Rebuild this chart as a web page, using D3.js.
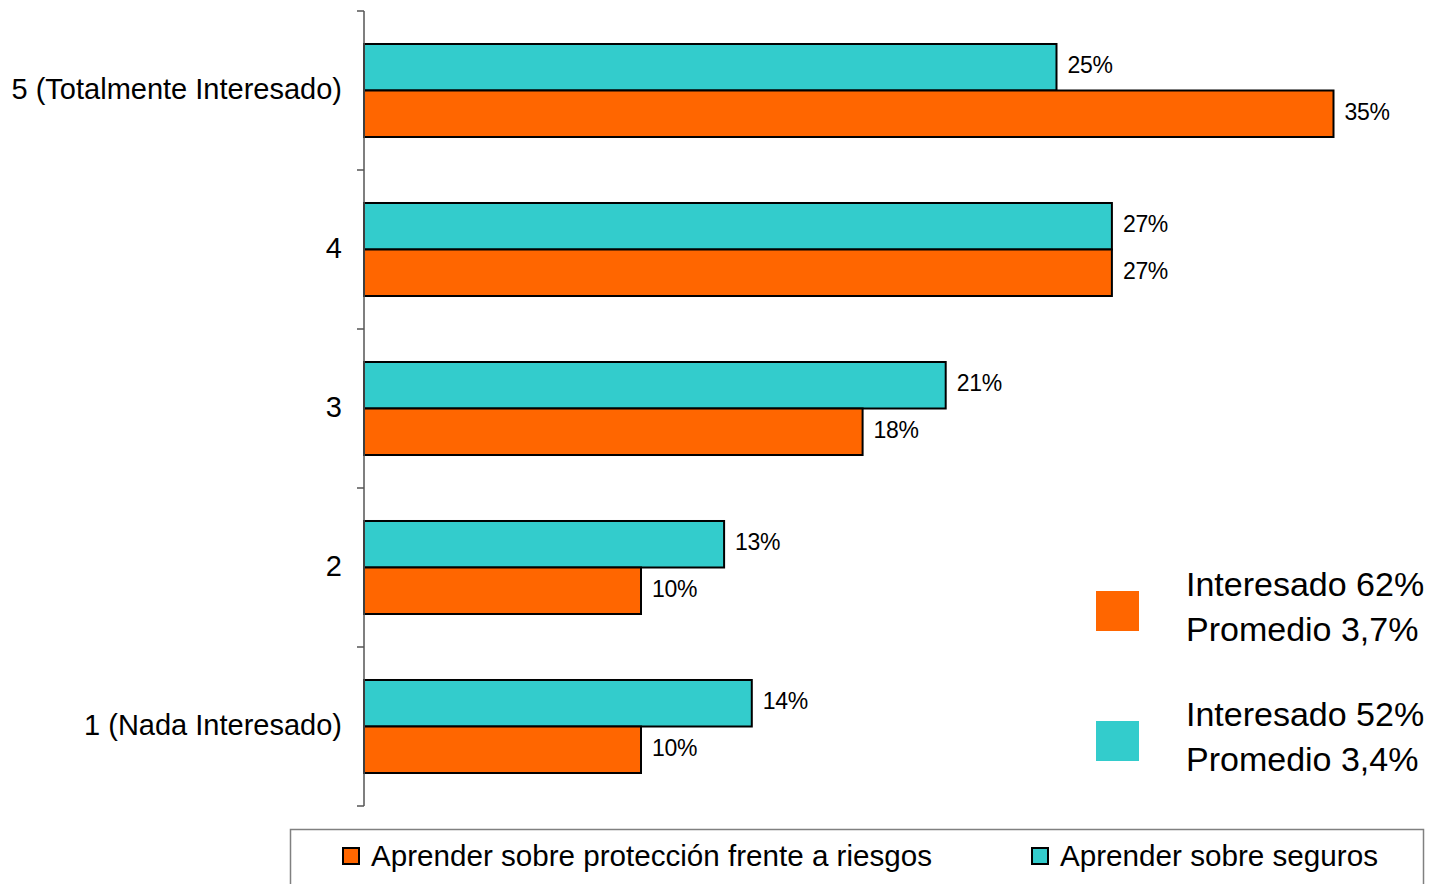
<!DOCTYPE html>
<meta charset="utf-8">
<title>Interés</title>
<style>
  body { margin: 0; background: #fff; font-family: "Liberation Sans", Arial, sans-serif; }
  .cat { font-size: 29px; fill: #000; }
  .val { font-size: 23px; fill: #000; letter-spacing: -0.3px; }
  .bar { stroke: #000; stroke-width: 2px; }
  .side { font-size: 34px; fill: #000; }
  .leg { font-size: 30px; fill: #000; }
</style>
<body>
<script src="https://d3js.org/d3.v7.min.js"></script>
<div id="chart"></div>
<script>
// data
var categories = ["5 (Totalmente Interesado)", "4", "3", "2", "1 (Nada Interesado)"];
var seriesNames = ["Aprender sobre seguros", "Aprender sobre protección frente a riesgos"];
var seguros = [25, 27, 21, 13, 14];
var proteccion = [35, 27, 18, 10, 10];
var colors = ["#33CCCC", "#FF6600"];
var sideLines = [["Interesado 62%", "Promedio 3,7%"], ["Interesado 52%", "Promedio 3,4%"]];
var sideColors = ["#FF6600", "#33CCCC"];

var width = 1430, height = 884;

var svg = d3.select("#chart").append("svg")
    .attr("width", width)
    .attr("height", height);

// scales
var y = d3.scaleBand().domain(categories).range([11, 806])
    .paddingInner(0.415).paddingOuter(0.2075);
var ySub = d3.scaleBand().domain([0, 1]).range([0, y.bandwidth()]);
var x = d3.scaleLinear().domain([0, 40]).range([364, 364 + 40 * 27.7]);

// bars
var rows = categories.map(function(c, i) {
  return { cat: c, vals: [seguros[i], proteccion[i]] };
});

var g = svg.selectAll(".row").data(rows).enter().append("g")
    .attr("transform", function(d) { return "translate(0," + y(d.cat) + ")"; });

g.selectAll("rect").data(function(d) { return d.vals; }).enter().append("rect")
    .attr("class", "bar")
    .attr("x", x(0))
    .attr("y", function(d, i) { return ySub(i); })
    .attr("width", function(d) { return x(d) - x(0); })
    .attr("height", ySub.bandwidth())
    .attr("fill", function(d, i) { return colors[i]; });

g.selectAll("text").data(function(d) { return d.vals; }).enter().append("text")
    .attr("class", "val")
    .attr("x", function(d) { return x(d) + 11; })
    .attr("y", function(d, i) { return ySub(i) + ySub.bandwidth() / 2 - 2; })
    .attr("dominant-baseline", "central")
    .text(function(d) { return d + "%"; });

// y axis: labels at band centres, ticks at band edges
var yAxis = d3.axisLeft(y).tickSize(0).tickPadding(22);
var ax = svg.append("g").attr("transform", "translate(364,0)").call(yAxis);
ax.select(".domain").remove();
ax.selectAll("text").attr("class", "cat").attr("font-size", null).attr("font-family", null)
    .attr("dy", "0.3em");

var edges = categories.map(function(c) { return y(c) - y.step() * y.paddingInner() / 2; });
edges.push(y.range()[1]);
svg.append("line")
    .attr("x1", 364).attr("x2", 364)
    .attr("y1", edges[0]).attr("y2", edges[edges.length - 1])
    .attr("stroke", "#555").attr("stroke-width", 1.5);
svg.selectAll(".tk").data(edges).enter().append("line")
    .attr("x1", 357).attr("x2", 364)
    .attr("y1", function(d) { return d; }).attr("y2", function(d) { return d; })
    .attr("stroke", "#555").attr("stroke-width", 1.5);

// side notes
var sideY = [570, 700];
sideLines.forEach(function(lines, i) {
  svg.append("rect")
      .attr("x", 1096).attr("y", sideY[i] + 21)
      .attr("width", 43).attr("height", 40)
      .attr("fill", sideColors[i]);
  lines.forEach(function(t, j) {
    svg.append("text").attr("class", "side")
        .attr("x", 1186).attr("y", sideY[i] + 26 + j * 45)
        .text(t);
  });
});

// bottom legend
svg.append("rect")
    .attr("x", 290.5).attr("y", 829.5)
    .attr("width", 1133).attr("height", 80)
    .attr("fill", "none").attr("stroke", "#808080").attr("stroke-width", 1.5);

var legItems = [
  { name: seriesNames[1], color: colors[1], x: 343, len: 561 },
  { name: seriesNames[0], color: colors[0], x: 1032, len: 318 }
];
legItems.forEach(function(d) {
  svg.append("rect")
      .attr("x", d.x).attr("y", 848)
      .attr("width", 16).attr("height", 16)
      .attr("fill", d.color).attr("stroke", "#000").attr("stroke-width", 2);
  svg.append("text").attr("class", "leg")
      .attr("x", d.x + 28).attr("y", 866)
      .attr("textLength", d.len).attr("lengthAdjust", "spacingAndGlyphs")
      .text(d.name);
});
</script>
</body>
